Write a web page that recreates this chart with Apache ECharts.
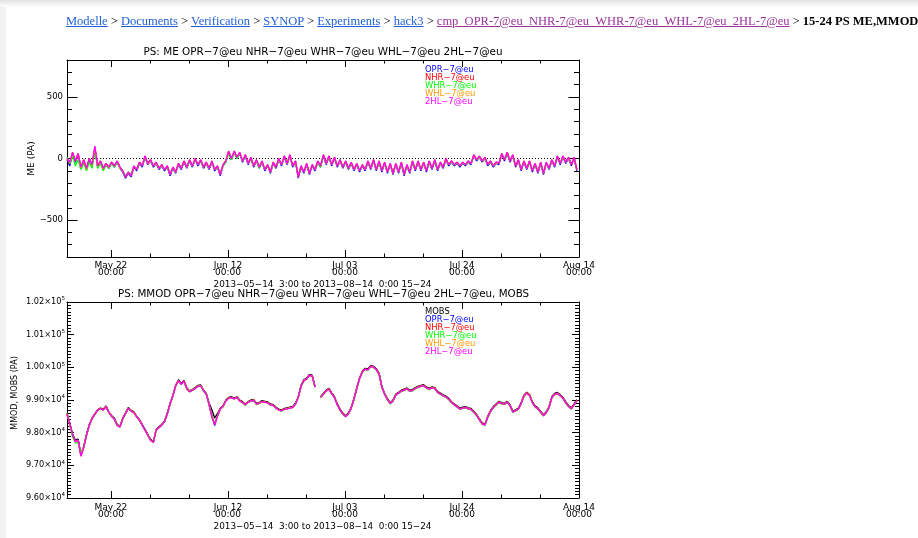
<!DOCTYPE html>
<html><head><meta charset="utf-8">
<script src="https://cdn.jsdelivr.net/npm/echarts/dist/echarts.min.js"></script>
<style>
html,body{margin:0;padding:0;width:918px;height:538px;overflow:hidden;background:#fff;}
#chart{position:absolute;left:0;top:0;width:918px;height:538px;}
#crumb{position:absolute;left:66px;top:14px;font-family:'Liberation Serif',serif;font-size:12.5px;line-height:15px;white-space:nowrap;color:#000;z-index:2;}
#crumb a{color:#1f5fd6;text-decoration:underline;}
#crumb a.v{color:#993399;}
</style></head>
<body>
<div id="chart"></div>
<div id="crumb"><a href="#">Modelle</a> &gt; <a href="#">Documents</a> &gt; <a href="#">Verification</a> &gt; <a href="#">SYNOP</a> &gt; <a href="#">Experiments</a> &gt; <a href="#">hack3</a> &gt; <a class="v" href="#">cmp_OPR-7@eu_NHR-7@eu_WHR-7@eu_WHL-7@eu_2HL-7@eu</a> &gt; <b>15-24 PS ME,MMOD,MOBS</b></div>
<script>
// ---------- data ----------
const timeStart = '2013-05-14T03:00:00Z';
const stepHours = 12;
const axisStart = '2013-05-14T03:00:00Z';
const axisEnd = '2013-08-14T00:00:00Z';
const majorTickDates = ['2013-05-22','2013-06-12','2013-07-03','2013-07-24','2013-08-14'];
const minorTickDates = ['2013-05-29','2013-06-05','2013-06-19','2013-06-26','2013-07-10','2013-07-17','2013-07-31','2013-08-07'];
const meMajorTicks = [-500,0,500];
const meMinorTicks = [-800,-700,-600,-400,-300,-200,-100,100,200,300,400,600,700,800];
const mmodMajorTicks = [96000,97000,98000,99000,100000,101000,102000];
const models = ['OPR\u22127@eu','NHR\u22127@eu','WHR\u22127@eu','WHL\u22127@eu','2HL\u22127@eu'];
const modelColors = ['#0000ff','#ff0000','#00ff00','#ff9900','#ff00ff'];
const obsName = 'MOBS';

const me_OPR = [
-10,-60,40,-30,30,-80,-20,-90,-10,-60,
80,-70,-30,-90,-50,-80,-40,-70,-30,-80,
-110,-160,-120,-150,-70,-100,-40,-70,10,-50,
-20,-70,-40,-90,-60,-100,-70,-140,-80,-120,
-50,-90,-30,-80,-20,-70,-10,-60,-20,-80,
-40,-90,-30,-100,-70,-140,-60,-30,50,-10,
50,0,40,-30,20,-50,0,-70,-20,-80,
-30,-100,-60,-120,-40,-80,-10,-60,10,-50,
20,-70,-30,-160,-70,-120,-50,-130,-60,-100,
-30,-70,20,-50,10,-60,0,-70,-20,-80,
-30,-90,-40,-100,-50,-110,-60,-100,-30,-90,
-20,-100,-30,-110,-40,-120,-50,-130,-50,-120,
-40,-140,-60,-120,-30,-100,-30,-100,-40,-110,
-30,-90,-20,-100,-40,-80,-10,-60,-30,-60,
-40,-70,-40,-60,-30,-50,20,-20,10,-30,
0,-60,-30,-70,-40,-50,30,-20,40,-30,
20,-70,-20,-100,-30,-90,-30,-110,-50,-120,
-40,-130,-40,-90,-20,-70,10,-50,10,-40,
0,-60,0,-100];
const me_NHR = [
0,-40,50,-20,40,-70,-10,-80,0,-50,
90,-60,-20,-80,-40,-70,-30,-60,-20,-70,
-100,-150,-110,-140,-60,-90,-30,-60,20,-40,
-10,-60,-30,-80,-50,-90,-60,-130,-70,-110,
-40,-80,-20,-70,-10,-60,0,-50,-10,-70,
-30,-80,-20,-90,-60,-130,-50,-20,60,0,
60,10,50,-20,30,-40,10,-60,-10,-70,
-20,-90,-50,-110,-30,-70,0,-50,20,-40,
30,-60,-20,-150,-60,-110,-40,-120,-50,-90,
-20,-60,30,-40,20,-50,10,-60,-10,-70,
-20,-80,-30,-90,-40,-100,-50,-90,-20,-80,
-10,-90,-20,-100,-30,-110,-40,-120,-40,-110,
-30,-130,-50,-110,-20,-90,-20,-90,-30,-100,
-20,-80,-10,-90,-30,-70,0,-50,-20,-50,
-30,-60,-30,-50,-20,-40,30,-10,20,-20,
10,-50,-20,-60,-30,-40,40,-10,50,-20,
30,-60,-10,-90,-20,-80,-20,-100,-40,-110,
-30,-120,-30,-80,-10,-60,20,-40,20,-30,
10,-50,10,-90];
const me_WHR = [
10,-40,20,-60,-10,-90,-40,-100,-30,-80,
60,-80,-40,-100,-50,-80,-40,-70,-30,-80,
-100,-140,-110,-130,-70,-90,-40,-60,10,-40,
-20,-60,-40,-80,-60,-90,-70,-120,-80,-110,
-50,-80,-30,-70,-20,-60,-10,-50,-20,-70,
-40,-80,-30,-90,-70,-120,-60,-30,40,-10,
50,0,40,-20,20,-40,0,-60,-20,-80,
-30,-90,-60,-110,-40,-70,-10,-50,10,-40,
20,-60,-30,-140,-70,-110,-50,-110,-60,-90,
-30,-70,20,-40,10,-50,0,-60,-20,-70,
-30,-80,-40,-90,-50,-100,-60,-90,-30,-80,
-20,-90,-30,-100,-40,-110,-50,-120,-50,-110,
-40,-130,-60,-110,-30,-90,-30,-90,-40,-100,
-30,-80,-20,-90,-40,-70,-10,-50,-30,-50,
-40,-60,-40,-50,-30,-40,20,-10,10,-20,
0,-50,-30,-60,-40,-40,30,-10,40,-20,
20,-60,-20,-90,-30,-80,-30,-100,-50,-110,
-40,-120,-40,-80,-20,-60,10,-40,10,-30,
0,-50,0,-90];
const me_WHL = [
0,-35,45,-20,40,-75,-10,-85,0,-55,
95,-65,-20,-85,-40,-75,-30,-65,-20,-75,
-105,-150,-115,-140,-65,-90,-35,-60,15,-45,
-15,-60,-35,-80,-55,-90,-65,-130,-75,-110,
-45,-80,-25,-70,-15,-60,-5,-50,-15,-70,
-35,-80,-25,-90,-65,-130,-55,-20,55,0,
55,10,45,-20,25,-40,5,-60,-15,-70,
-25,-90,-55,-110,-35,-70,-5,-50,15,-40,
25,-60,-25,-150,-65,-110,-45,-120,-55,-90,
-25,-60,25,-40,15,-50,5,-60,-15,-70,
-25,-80,-35,-90,-45,-100,-55,-90,-25,-80,
-15,-90,-25,-100,-35,-110,-45,-120,-45,-110,
-35,-130,-55,-110,-25,-90,-25,-90,-35,-100,
-25,-80,-15,-90,-35,-70,-5,-50,-25,-50,
-35,-60,-35,-50,-25,-40,25,-10,15,-20,
5,-50,-25,-60,-35,-40,35,-10,45,-20,
25,-60,-15,-90,-25,-80,-25,-100,-45,-110,
-35,-120,-35,-80,-15,-60,15,-40,15,-30,
5,-50,5,-90];
const me_2HL = [
0,-30,50,-20,40,-70,-10,-80,0,-50,
100,-60,-20,-80,-40,-70,-30,-60,-20,-70,
-100,-150,-110,-140,-60,-90,-30,-60,20,-40,
-10,-60,-30,-80,-50,-90,-60,-130,-70,-110,
-40,-80,-20,-70,-10,-60,0,-50,-10,-70,
-30,-80,-20,-90,-60,-130,-50,-20,60,0,
60,10,50,-20,30,-40,10,-60,-10,-70,
-20,-90,-50,-110,-30,-70,0,-50,20,-40,
30,-60,-20,-150,-60,-110,-40,-120,-50,-90,
-20,-60,30,-40,20,-50,10,-60,-10,-70,
-20,-80,-30,-90,-40,-100,-50,-90,-20,-80,
-10,-90,-20,-100,-30,-110,-40,-120,-40,-110,
-30,-130,-50,-110,-20,-90,-20,-90,-30,-100,
-20,-80,-10,-90,-30,-70,0,-50,-20,-50,
-30,-60,-30,-50,-20,-40,30,-10,20,-20,
10,-50,-20,-60,-30,-40,40,-10,50,-20,
30,-60,-10,-90,-20,-80,-20,-100,-40,-110,
-30,-120,-30,-80,-10,-60,20,-40,20,-30,
10,-50,10,-90];

const mmod_MOBS = [
98600,98300,97950,97780,97800,97330,97580,97950,98250,98450,
98580,98700,98750,98720,98820,98640,98520,98450,98250,98200,
98450,98600,98770,98680,98640,98500,98400,98250,98100,97950,
97800,97720,98100,98180,98250,98350,98600,98900,99150,99450,
99620,99500,99600,99370,99280,99320,99380,99450,99460,99300,
99200,98900,98700,98450,98580,98750,98820,99000,99080,99100,
99060,99100,99000,98950,98880,98950,99000,99010,98900,98920,
98980,98960,98940,98880,98860,98780,98720,98700,98740,98760,
98780,98800,98900,99100,99450,99620,99670,99780,99760,99420,
null,99100,99200,99300,99360,99220,99100,98880,98720,98600,
98520,98600,98780,99050,99380,99680,99880,99970,99950,100060,
100030,99960,99820,99420,99200,99040,98920,99000,99180,99240,
99300,99330,99370,99300,99320,99380,99420,99450,99470,99400,
99360,99400,99380,99260,99210,99160,99120,99050,98950,98880,
98820,98750,98780,98800,98760,98740,98650,98560,98420,98300,
98260,98500,98680,98800,98880,98960,98920,98900,98960,98850,
98660,98700,98750,98920,99150,99240,99170,98950,98820,98760,
98650,98550,98640,98800,99100,99200,99230,99160,99080,98940,
98830,98760,98880,99010];
const mmod_OPR = [
98580,98280,97940,97740,97780,97300,97560,97930,98230,98440,
98570,98690,98740,98700,98800,98630,98510,98430,98230,98180,
98430,98590,98750,98670,98620,98490,98390,98240,98080,97930,
97780,97700,98090,98160,98240,98340,98580,98880,99130,99440,
99600,99490,99580,99350,99260,99300,99360,99430,99440,99280,
99180,98870,98520,98220,98520,98730,98800,98980,99060,99080,
99040,99080,98980,98930,98860,98930,98980,98990,98880,98900,
98960,98940,98920,98860,98840,98760,98700,98680,98720,98740,
98760,98780,98880,99080,99430,99600,99650,99760,99740,99400,
null,99080,99180,99280,99340,99200,99080,98860,98700,98580,
98500,98580,98760,99030,99360,99660,99860,99950,99930,100040,
100010,99940,99800,99400,99180,99020,98900,98980,99160,99220,
99280,99310,99350,99280,99300,99360,99400,99430,99450,99380,
99340,99380,99360,99240,99190,99140,99100,99030,98930,98860,
98800,98730,98760,98780,98740,98720,98630,98540,98400,98280,
98240,98480,98660,98780,98860,98940,98900,98880,98940,98830,
98640,98680,98730,98900,99130,99220,99150,98930,98800,98740,
98630,98530,98620,98780,99080,99180,99210,99140,99060,98920,
98810,98740,98860,98990];
const mmod_NHR = [
98580,98270,97940,97730,97770,97290,97550,97930,98230,98440,
98570,98690,98750,98700,98800,98630,98510,98420,98230,98180,
98430,98590,98750,98670,98620,98490,98390,98240,98080,97930,
97770,97710,98090,98160,98240,98340,98580,98890,99130,99440,
99600,99490,99580,99350,99260,99310,99360,99430,99440,99290,
99180,98860,98490,98260,98510,98730,98810,98980,99060,99080,
99040,99090,98980,98930,98860,98940,98980,99000,98880,98910,
98960,98940,98920,98860,98840,98760,98700,98680,98720,98740,
98760,98780,98880,99090,99430,99600,99650,99760,99740,99400,
null,99090,99180,99280,99340,99200,99080,98860,98700,98580,
98500,98580,98760,99030,99360,99660,99860,99950,99930,100040,
100010,99940,99800,99400,99180,99020,98900,98980,99160,99220,
99280,99310,99350,99280,99300,99360,99400,99430,99450,99380,
99340,99380,99360,99240,99190,99140,99100,99030,98930,98860,
98800,98730,98760,98780,98740,98720,98630,98540,98400,98280,
98240,98480,98660,98780,98860,98940,98900,98880,98940,98830,
98640,98680,98730,98900,99130,99220,99150,98930,98800,98740,
98630,98530,98620,98780,99080,99180,99210,99140,99060,98920,
98810,98740,98860,98990];
const mmod_WHR = [
98590,98250,97870,97690,97680,97380,97560,97900,98210,98430,
98560,98680,98730,98690,98790,98620,98500,98420,98220,98180,
98420,98580,98740,98660,98610,98480,98380,98230,98070,97920,
97770,97710,98080,98150,98230,98330,98570,98870,99120,99420,
99580,99470,99560,99330,99250,99290,99350,99420,99430,99270,
99170,98860,98520,98280,98510,98720,98790,98970,99050,99070,
99030,99070,98970,98910,98840,98920,98970,98980,98860,98890,
98950,98930,98910,98840,98830,98750,98690,98660,98710,98730,
98750,98770,98870,99070,99410,99580,99640,99740,99720,99390,
null,99070,99170,99260,99330,99190,99070,98850,98680,98560,
98490,98570,98750,99010,99340,99640,99840,99930,99910,100020,
99990,99920,99780,99380,99160,99000,98880,98960,99150,99200,
99260,99290,99330,99260,99280,99340,99380,99410,99430,99360,
99320,99360,99340,99220,99170,99120,99080,99010,98910,98840,
98780,98710,98740,98760,98720,98700,98610,98520,98380,98250,
98220,98460,98640,98760,98840,98920,98880,98860,98920,98810,
98620,98660,98710,98880,99110,99200,99130,98910,98780,98720,
98610,98510,98600,98760,99060,99160,99190,99120,99040,98900,
98790,98720,98840,98970];
const mmod_WHL = [
98575,98265,97935,97725,97765,97285,97545,97925,98225,98435,
98565,98685,98745,98695,98795,98625,98505,98415,98225,98175,
98425,98585,98745,98665,98615,98485,98385,98235,98075,97925,
97765,97705,98085,98155,98235,98335,98575,98885,99125,99435,
99595,99485,99575,99345,99255,99305,99355,99425,99435,99285,
99175,98855,98485,98255,98505,98725,98805,98975,99055,99075,
99035,99085,98975,98925,98855,98935,98975,98995,98875,98905,
98955,98935,98915,98855,98835,98755,98695,98675,98715,98735,
98755,98775,98875,99085,99425,99595,99645,99755,99735,99395,
null,99085,99175,99275,99335,99195,99075,98855,98695,98575,
98495,98575,98755,99025,99355,99655,99855,99945,99925,100035,
100005,99935,99795,99395,99175,99015,98895,98975,99155,99215,
99275,99305,99345,99275,99295,99355,99395,99425,99445,99375,
99335,99375,99355,99235,99185,99135,99095,99025,98925,98855,
98795,98725,98755,98775,98735,98715,98625,98535,98395,98275,
98235,98475,98655,98775,98855,98935,98895,98875,98935,98825,
98635,98675,98725,98895,99125,99215,99145,98925,98795,98735,
98625,98525,98615,98775,99075,99175,99205,99135,99055,98915,
98805,98735,98855,98985];
const mmod_2HL = [
98570,98260,97930,97720,97760,97280,97540,97920,98220,98430,
98560,98680,98740,98690,98790,98620,98500,98410,98220,98170,
98420,98580,98740,98660,98610,98480,98380,98230,98070,97920,
97760,97700,98080,98150,98230,98330,98570,98880,99120,99430,
99590,99480,99570,99340,99250,99300,99350,99420,99430,99280,
99170,98850,98480,98250,98500,98720,98800,98970,99050,99070,
99030,99080,98970,98920,98850,98930,98970,98990,98870,98900,
98950,98930,98910,98850,98830,98750,98690,98670,98710,98730,
98750,98770,98870,99080,99420,99590,99640,99750,99730,99390,
null,99080,99170,99270,99330,99190,99070,98850,98690,98570,
98490,98570,98750,99020,99350,99650,99850,99940,99920,100030,
100000,99930,99790,99390,99170,99010,98890,98970,99150,99210,
99270,99300,99340,99270,99290,99350,99390,99420,99440,99370,
99330,99370,99350,99230,99180,99130,99090,99020,98920,98850,
98790,98720,98750,98770,98730,98710,98620,98530,98390,98270,
98230,98470,98650,98770,98850,98930,98890,98870,98930,98820,
98630,98670,98720,98890,99120,99210,99140,98920,98790,98730,
98620,98520,98610,98770,99070,99170,99200,99130,99050,98910,
98800,98730,98850,98980];

const meSeries = [me_OPR, me_NHR, me_WHR, me_WHL, me_2HL];
const mmodSeries = [mmod_OPR, mmod_NHR, mmod_WHR, mmod_WHL, mmod_2HL];

// ---------- build ----------
const FONT = 'DejaVu Sans';
const LW = 1.3;
const t0 = Date.parse(timeStart);
const step = stepHours * 3600 * 1000;
const xMin = Date.parse(axisStart), xMax = Date.parse(axisEnd);
const majorX = majorTickDates.map(d => Date.parse(d + 'T00:00:00Z'));
const minorX = minorTickDates.map(d => Date.parse(d + 'T00:00:00Z'));
const mmodMinorTicks = [];
for (let v = 96000; v <= 102000; v += 100) if (v % 1000 !== 0) mmodMinorTicks.push(v);
const toPairs = arr => arr.map((v, i) => [t0 + i * step, v]);

const MON = ['Jan','Feb','Mar','Apr','May','Jun','Jul','Aug','Sep','Oct','Nov','Dec'];
const p2 = n => (n < 10 ? '0' : '') + n;
const fmtDate = v => { const d = new Date(v); return MON[d.getUTCMonth()] + ' ' + p2(d.getUTCDate()) + '\n' + p2(d.getUTCHours()) + ':' + p2(d.getUTCMinutes()); };
const fmtME = v => v < 0 ? '\u2212' + (-v) : String(v);
const fmtSci = v => { const e = Math.floor(Math.log10(v) + 1e-9); const m = (v / Math.pow(10, e)).toFixed(2); return m + '\u00d710{s|' + e + '}'; };

const black = {color: '#000', width: 1};
function mkX(g, pos, ticks, len, line, label) {
  return {gridIndex: g, type: 'value', position: pos, min: xMin, max: xMax,
    axisLine: {show: line, onZero: false, lineStyle: black},
    axisTick: {show: true, inside: true, length: len, customValues: ticks, lineStyle: black},
    axisLabel: label ? Object.assign({show: true, customValues: ticks}, label) : {show: false},
    splitLine: {show: false}};
}
function mkY(g, pos, min, max, ticks, len, line, label) {
  return {gridIndex: g, type: 'value', position: pos, min: min, max: max,
    axisLine: {show: line, onZero: false, lineStyle: black},
    axisTick: {show: true, inside: true, length: len, customValues: ticks, lineStyle: black},
    axisLabel: label ? Object.assign({show: true, customValues: ticks}, label) : {show: false},
    splitLine: {show: false}};
}
const xLab = m => ({formatter: fmtDate, fontSize: 9, lineHeight: 7.5, margin: m, color: '#000', fontFamily: FONT});

const xAxis = [];
const yAxis = [];
[0, 1].forEach(g => {
  xAxis.push(mkX(g, 'bottom', majorX, 7, true, xLab(g === 0 ? 4.5 : 5.5)));
  xAxis.push(mkX(g, 'bottom', minorX, 3.5, false));
  xAxis.push(mkX(g, 'top', majorX, 7, true));
  xAxis.push(mkX(g, 'top', minorX, 3.5, false));
});
yAxis.push(mkY(0, 'left', -800, 800, meMajorTicks, 10.5, true, {formatter: fmtME, fontSize: 8.5, margin: 4, color: '#000', fontFamily: FONT}));
yAxis.push(mkY(0, 'left', -800, 800, meMinorTicks, 5, false));
yAxis.push(mkY(0, 'right', -800, 800, meMajorTicks, 10.5, true));
yAxis.push(mkY(0, 'right', -800, 800, meMinorTicks, 5, false));
yAxis.push(mkY(1, 'left', 96000, 102000, mmodMajorTicks, 7, true, {formatter: fmtSci, fontSize: 8.2, lineHeight: 12, margin: 2, color: '#000', fontFamily: FONT,
  rich: {s: {fontSize: 5.5, verticalAlign: 'top', color: '#000', fontFamily: FONT}}}));
yAxis.push(mkY(1, 'left', 96000, 102000, mmodMinorTicks, 4, false));
yAxis.push(mkY(1, 'right', 96000, 102000, mmodMajorTicks, 7, true));
yAxis.push(mkY(1, 'right', 96000, 102000, mmodMinorTicks, 4, false));

const series = [];
series.push({type: 'line', xAxisIndex: 0, yAxisIndex: 0, data: [[xMin, 0], [xMax, 0]], symbol: 'none', silent: true,
  lineStyle: {color: '#000', width: 1, type: [1, 2]}});
meSeries.forEach((arr, i) => series.push({name: models[i], type: 'line', xAxisIndex: 0, yAxisIndex: 0, data: toPairs(arr),
  symbol: 'none', showSymbol: false, silent: true, lineStyle: {color: modelColors[i], width: LW}, itemStyle: {color: modelColors[i]}}));
series.push({name: obsName, type: 'line', xAxisIndex: 4, yAxisIndex: 4, data: toPairs(mmod_MOBS),
  symbol: 'none', showSymbol: false, silent: true, lineStyle: {color: '#000', width: LW}, itemStyle: {color: '#000'}});
mmodSeries.forEach((arr, i) => series.push({name: models[i], type: 'line', xAxisIndex: 4, yAxisIndex: 4, data: toPairs(arr),
  symbol: 'none', showSymbol: false, silent: true, lineStyle: {color: modelColors[i], width: LW}, itemStyle: {color: modelColors[i]}}));

const legendCommon = {orient: 'vertical', left: 420, icon: 'none', itemWidth: 0, itemHeight: 7.6, itemGap: 0, padding: 0,
  selectedMode: false, textStyle: {fontSize: 8.4, fontFamily: FONT, lineHeight: 7.6, padding: 0}};
const legend = [
  Object.assign({}, legendCommon, {top: 66.2, data: models.map((m, i) => ({name: m, textStyle: {color: modelColors[i]}}))}),
  Object.assign({}, legendCommon, {top: 308.2, data: [{name: obsName, textStyle: {color: '#000'}}].concat(models.map((m, i) => ({name: m, textStyle: {color: modelColors[i]}})))})
];

const txt = (x, y, text, size, extra) => Object.assign({type: 'text', x: x, y: y, silent: true,
  style: {text: text, fontSize: size, fontFamily: FONT, fill: '#000', align: 'center', verticalAlign: 'middle'}}, extra || {});
const periodText = '2013\u221205\u221214  3:00 to 2013\u221208\u221214  0:00 15\u221224';
const graphic = [
  {type: 'rect', silent: true, z: -10, shape: {x: 0, y: 0, width: 6, height: 538}, style: {fill: '#f2f2f2'}},
  {type: 'rect', silent: true, z: -10, shape: {x: 0, y: 0, width: 918, height: 7},
    style: {fill: new echarts.graphic.LinearGradient(0, 0, 0, 1, [{offset: 0, color: '#e2e2e2'}, {offset: 1, color: '#ffffff'}])}},
  txt(323, 52.5, 'PS: ME ' + models.join(' '), 10.4),
  txt(322.5, 284.5, periodText, 8.85),
  txt(323.5, 294.5, 'PS: MMOD ' + models.join(' ') + ', MOBS', 10.3),
  txt(322.5, 527, periodText, 8.85),
  txt(32, 158.5, 'ME (PA)', 9, {rotation: Math.PI / 2}),
  txt(15, 393, 'MMOD, MOBS (PA)', 8, {rotation: Math.PI / 2})
];

const chart = echarts.init(document.getElementById('chart'), null, {renderer: 'canvas'});
chart.setOption({
  animation: false,
  backgroundColor: '#fff',
  grid: [{left: 67, top: 60, width: 512, height: 197}, {left: 67, top: 302, width: 512, height: 196}],
  xAxis: xAxis, yAxis: yAxis, series: series, legend: legend, graphic: graphic
});
</script>
</body></html>
